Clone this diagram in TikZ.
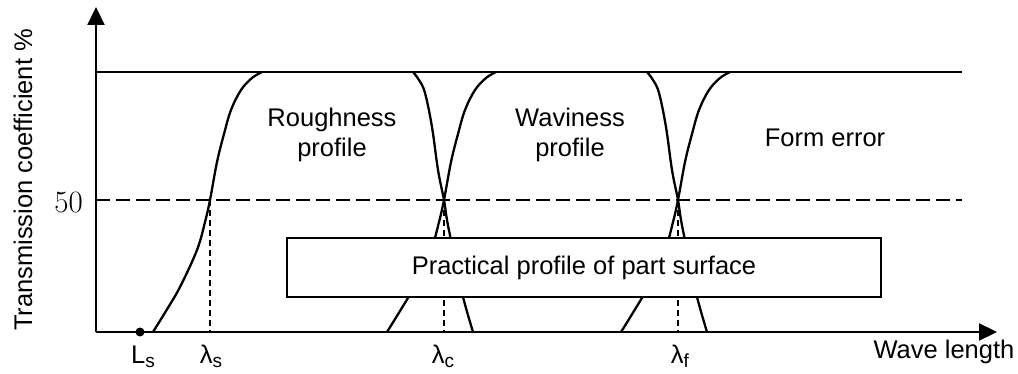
\documentclass[tikz,border=0pt]{standalone}
\usepackage{fontspec}
\setsansfont{Liberation Sans}
\usetikzlibrary{arrows.meta}
\newcommand\lsub[1]{\raisebox{-4pt}{\fontsize{19}{19}\selectfont #1}}
\newcommand\risecurve{plot[smooth, tension=0.6] coordinates {(-57,132) (-44,111) (-30,87) (-13,50) (-5,22) (0,0) (7,-38) (14,-66) (21,-90) (31,-110) (42,-122) (52,-128)}}
\newcommand\fallcurve{plot[smooth, tension=0.6] coordinates {(29,132) (18,93) (8,45) (3,20) (0,0) (-6,-30) (-12,-73) (-19,-107) (-25,-120) (-31,-128)}}
\begin{document}
\begin{tikzpicture}[x=1pt,y=-1pt,line width=2.3pt,
  lbl/.style={font=\sffamily\fontsize{25.5}{30}\selectfont, inner sep=0pt, align=center},
  axis/.style={line width=2.3pt, -{Triangle[width=17pt,length=18pt]}},
  halfline/.style={line width=2.8pt, dash pattern=on 14pt off 6pt},
  cutline/.style={line width=1.5pt, dash pattern=on 6pt off 4pt},
  curve/.style={line width=2.3pt},
  boxnode/.style={draw, line width=2.8pt, fill=white, minimum width=594pt, minimum height=59pt, inner sep=0pt, font=\sffamily\fontsize{25.5}{30}\selectfont}]
\useasboundingbox (0,0) rectangle (1018,374);
% coordinates
\coordinate (O) at (96,332);
\coordinate (Ytip) at (96,7);
\coordinate (Xtip) at (997,332);
\coordinate (T0) at (96,72);
\coordinate (T1) at (962,72);
\coordinate (H0) at (96,200);
\coordinate (H1) at (962,200);
\coordinate (S) at (210,200);
\coordinate (C) at (444,200);
\coordinate (F) at (678,200);
\coordinate (Sb) at (210,332);
\coordinate (Cb) at (444,332);
\coordinate (Fb) at (678,332);
% lines
\draw (T0) -- (T1);
\draw[halfline] (H0) -- (H1);
\draw[cutline] (S) -- (Sb);
\draw[cutline] (C) -- (Cb);
\draw[cutline] (F) -- (Fb);
% curves
\begin{scope}[shift={(210,200)}]
  \draw[curve] \risecurve;
\end{scope}
\begin{scope}[shift={(444,200)}]
  \draw[curve] \risecurve;
  \draw[curve] \fallcurve;
\end{scope}
\begin{scope}[shift={(678,200)}]
  \draw[curve] \risecurve;
  \draw[curve] \fallcurve;
\end{scope}
% box
\node[boxnode] (box) at (584,267.5) {Practical profile of part surface};
% axes
\draw[axis] (O) -- (Ytip);
\draw[axis] (O) -- (Xtip);
\node[circle, fill=black, inner sep=0pt, minimum size=9pt] (Ls) at (140,332) {};
% texts
\node[lbl, rotate=90] (ylab) at (23,180) {Transmission coefficient \%};
\node[font=\fontsize{31}{31}\selectfont, inner sep=0pt, anchor=base east] (fifty) at (84,213) {50};
\node[lbl] (rough) at (332,135) {Roughness\\profile};
\node[lbl] (wavi) at (570,135) {Waviness\\profile};
\node[lbl] (form) at (825,138) {Form error};
\node[lbl, anchor=base] (lLs) at (143,363) {L\lsub{s}};
\node[lbl, anchor=base] (lS) at (211,363) {λ\lsub{s}};
\node[lbl, anchor=base] (lC) at (443,363) {λ\lsub{c}};
\node[lbl, anchor=base] (lF) at (680,363) {λ\lsub{f}};
\node[lbl, anchor=base] (wl) at (944,358) {Wave length};
\end{tikzpicture}
\end{document}
